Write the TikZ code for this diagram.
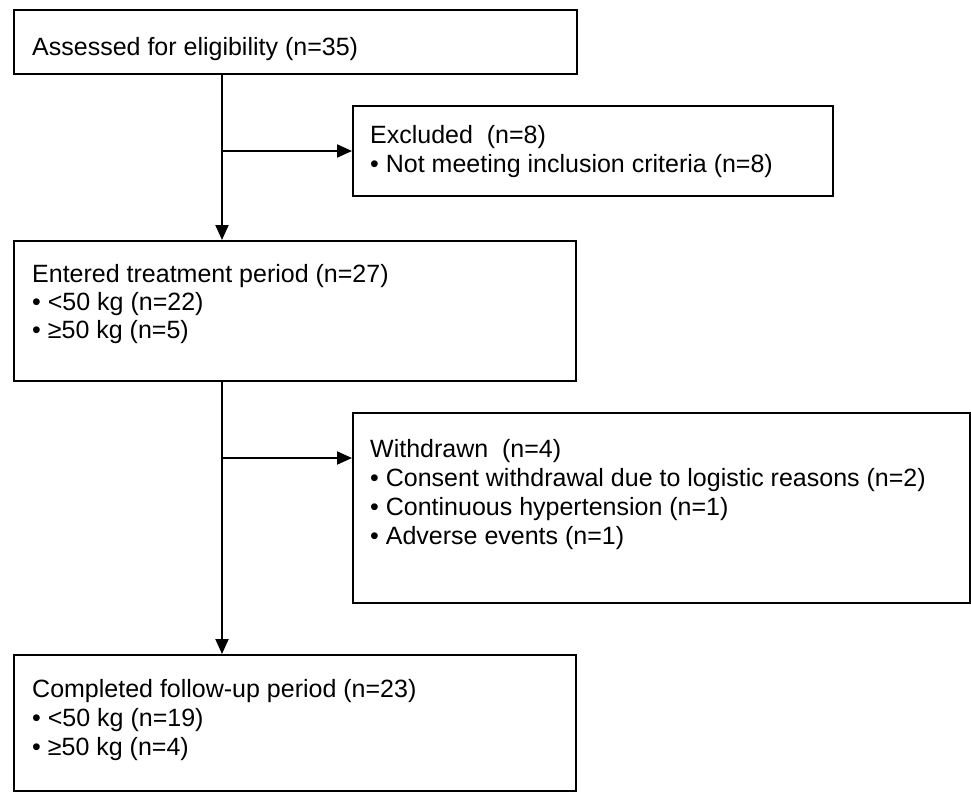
\documentclass[tikz,border=0pt]{standalone}
\usepackage{fontspec}
\setmainfont{Liberation Sans}
\usetikzlibrary{arrows.meta}
\begin{document}
\begin{tikzpicture}[x=1pt,y=-1pt,
  box/.style={draw=black, line width=2.2pt, rectangle, anchor=north west, inner sep=0pt, fill=white},
  txt/.style={anchor=base west, inner sep=0pt, font=\fontsize{25}{29}\selectfont},
  conn/.style={draw=black, line width=2pt},
  arr/.style={conn, -{Triangle[length=15pt,width=13pt]}}]
\useasboundingbox[fill=white] (0,0) rectangle (971,792);
% boxes
\node[box, minimum width=563pt, minimum height=64pt] (b1) at (13,9) {};
\node[box, minimum width=480pt, minimum height=90pt] (b2) at (352,105) {};
\node[box, minimum width=562pt, minimum height=140pt] (b3) at (13,240) {};
\node[box, minimum width=617pt, minimum height=190pt] (b4) at (352,412) {};
\node[box, minimum width=562pt, minimum height=136pt] (b5) at (13,654) {};
% junctions
\coordinate (j1) at (222,151);
\coordinate (j2) at (222,458);
% connectors
\draw[arr] (b1.south -| j1) -- (b3.north -| j1);
\draw[arr] (j1) -- (b2.west |- j1);
\draw[arr] (b3.south -| j2) -- (b5.north -| j2);
\draw[arr] (j2) -- (b4.west |- j2);
% texts
\node[txt] (t1) at (32,56) {Assessed for eligibility (n=35)};
\node[txt] (t2a) at (370,143) {Excluded\ \ (n=8)};
\node[txt] (t2b) at (370,172) {• Not meeting inclusion criteria (n=8)};
\node[txt] (t3a) at (32,282) {Entered treatment period (n=27)};
\node[txt] (t3b) at (32,310) {• <50 kg (n=22)};
\node[txt] (t3c) at (32,338) {• ≥50 kg (n=5)};
\node[txt] (t4a) at (370,457) {Withdrawn\ \ (n=4)};
\node[txt] (t4b) at (370,486) {• Consent withdrawal due to logistic reasons (n=2)};
\node[txt] (t4c) at (370,515) {• Continuous hypertension (n=1)};
\node[txt] (t4d) at (370,544) {• Adverse events (n=1)};
\node[txt] (t5a) at (32,697) {Completed follow-up period (n=23)};
\node[txt] (t5b) at (32,726) {• <50 kg (n=19)};
\node[txt] (t5c) at (32,755) {• ≥50 kg (n=4)};
\end{tikzpicture}
\end{document}
